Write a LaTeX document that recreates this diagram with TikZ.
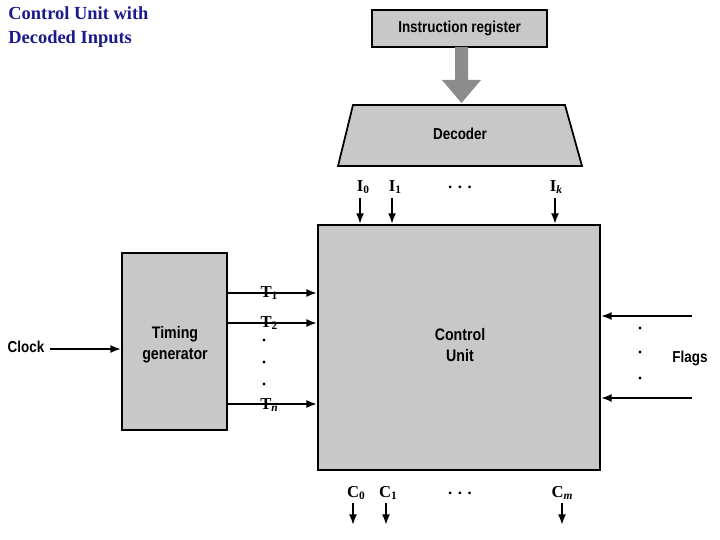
\documentclass[tikz,border=0pt]{standalone}
\usepackage{fontspec}
\setmainfont{Liberation Serif}
\newfontfamily\sansf[FakeStretch=0.85]{Liberation Sans}
\usetikzlibrary{arrows.meta}
\definecolor{boxgray}{HTML}{C8C8C8}
\definecolor{navy}{HTML}{1A1A8C}
\newcommand{\subb}[1]{\raisebox{-0.35ex}{\fontsize{6.5}{7}\selectfont #1}}
\begin{document}
\begin{tikzpicture}[x=0.02cm,y=-0.02cm,
  blk/.style={draw,line width=1pt,fill=boxgray},
  bt/.style={font=\sansf\bfseries\fontsize{9}{10}\selectfont,align=center},
  bt2/.style={font=\sansf\bfseries\fontsize{9.5}{12}\selectfont,align=center},
  lab/.style={font=\bfseries\fontsize{9.5}{10}\selectfont},
  arr/.style={-{Latex[length=6pt,width=4.5pt]},line width=1.1pt}]
\useasboundingbox (0,0) rectangle (720,540);
\node[anchor=north west,align=left,text=navy,font=\bfseries\fontsize{10.5}{13.8}\selectfont,inner sep=0pt] (title) at (8,6) {Control Unit with\\Decoded Inputs};
% instruction register
\draw[blk] (372,10) rectangle (547,47);
\node[bt] (ir) at (459.5,28.5) {Instruction register};
% big arrow
\fill[gray!90] (455,47) -- (468,47) -- (468,80) -- (481,80) -- (461.5,103) -- (442,80) -- (455,80) -- cycle;
% decoder
\draw[blk] (353,105) -- (565,105) -- (582,166) -- (338,166) -- cycle;
\node[bt] (dec) at (460,134) {Decoder};
% control unit
\draw[blk] (318,225) rectangle (600,470);
\node[bt2] (cu) at (460,345) {Control\\Unit};
% timing
\draw[blk] (122,253) rectangle (227,430);
\node[bt2] (tg) at (175,345) {Timing\\generator};
% I labels
\node[lab] (i0) at (363,187) {I\subb{0}};
\node[lab] (i1) at (395,187) {I\subb{1}};
\node[lab] (id) at (460,187) {. . .};
\node[lab] (ik) at (556,187) {I\subb{\itshape k}};
\coordinate (a0) at (360,224); \coordinate (a1) at (392,224); \coordinate (ak) at (555,224);
\draw[arr] (360,198) -- (a0);
\draw[arr] (392,198) -- (a1);
\draw[arr] (555,198) -- (ak);
% clock
\node[bt,inner sep=1pt] (clk) at (26,347) {Clock};
\coordinate (tgin) at (121,349);
\draw[arr] (50,349) -- (tgin);
% T lines
\foreach \y/\n in {293/1,323/2,404/n}{\coordinate (t\n) at (317,\y); \draw[arr] (228,\y) -- (t\n);}
\node[lab] (t1l) at (269,293) {T\subb{1}};
\node[lab] (t2l) at (269,323) {T\subb{2}};
\node[lab] (tnl) at (269,405) {T\subb{\itshape n}};
\foreach \y in {340,362,384} \fill (264,\y) circle (1.6);
% flags
\coordinate (f1) at (601,316); \coordinate (f2) at (601,398);
\draw[arr] (692,316) -- (f1);
\draw[arr] (692,398) -- (f2);
\foreach \y in {328,352,378} \fill (640,\y) circle (1.6);
\node[bt] (flags) at (690,358) {Flags};
% C outputs
\node[lab] (c0) at (356,493) {C\subb{0}};
\node[lab] (c1) at (388,493) {C\subb{1}};
\node[lab] (cd) at (460,493) {. . .};
\node[lab] (cm) at (562,493) {C\subb{\itshape m}};
\coordinate (b0) at (353,525); \coordinate (b1) at (386,525); \coordinate (bm) at (562,525);
\draw[arr] (353,503) -- (b0);
\draw[arr] (386,503) -- (b1);
\draw[arr] (562,503) -- (bm);
\end{tikzpicture}
\end{document}
